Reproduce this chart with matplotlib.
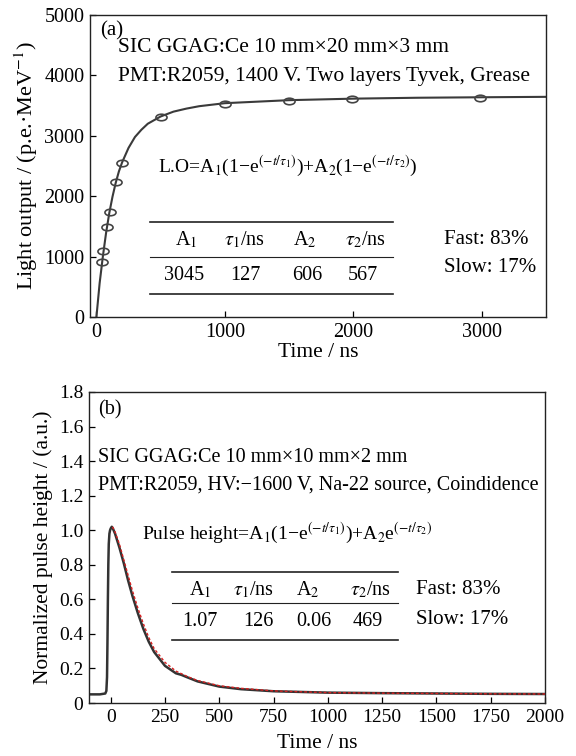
import numpy as np
import matplotlib
matplotlib.use("Agg")
import matplotlib.pyplot as plt
from matplotlib.lines import Line2D
from matplotlib.path import Path
from matplotlib.transforms import Affine2D

plt.rcParams['font.family'] = ['Liberation Serif', 'DejaVu Serif']
plt.rcParams['mathtext.fontset'] = 'stix'

# ---------------- data: panel (a) ----------------
lo_t = [47, 52, 86, 105, 156, 198, 503, 998, 1502, 1992, 2990]
lo_val = [916, 1088, 1495, 1743, 2240, 2545, 3306, 3531, 3581, 3609, 3625]
fit_a_t = [0, 25, 50, 75, 100, 125, 150, 175, 200, 250, 300, 350, 400, 500, 600,
           700, 800, 1000, 1500, 2000, 2500, 3000, 3500]
fit_a_val = [0, 560, 1000, 1390, 1720, 1990, 2220, 2410, 2560, 2800, 2980, 3100,
             3200, 3320, 3400, 3450, 3490, 3540, 3590, 3615, 3630, 3638, 3645]
a_xticks = [0, 1000, 2000, 3000]
a_yticks = [0, 1000, 2000, 3000, 4000, 5000]
a_table_head = [r"A$_1$", r"$\tau_1$/ns", r"A$_2$", r"$\tau_2$/ns"]
a_table_vals = ["3045", "127", "606", "567"]

# ---------------- data: panel (b) ----------------
pulse_t = [-100, -50, -25, -20, -17, -15, -13, -11, -9, -6, -3, 0, 5, 10, 20, 40,
           60, 80, 100, 125, 150, 175, 200, 250, 300, 325, 350, 400, 500, 600,
           750, 1000, 1250, 1500, 1750, 2000]
pulse_val = [0.05, 0.05, 0.055, 0.07, 0.15, 0.35, 0.6, 0.8, 0.92, 0.98, 1.0, 1.01,
             1.02, 1.01, 0.98, 0.90, 0.81, 0.71, 0.62, 0.52, 0.43, 0.355, 0.295,
             0.215, 0.172, 0.163, 0.15, 0.125, 0.095, 0.08, 0.068, 0.06, 0.057,
             0.055, 0.053, 0.052]
fit_b_t = [8, 20, 40, 60, 80, 100, 125, 150, 175, 200, 250, 300, 350, 400, 500,
           600, 750, 1000, 1250, 1500, 1750, 2000]
fit_b_val = [1.02, 0.99, 0.92, 0.83, 0.74, 0.65, 0.55, 0.46, 0.38, 0.315, 0.235,
             0.185, 0.155, 0.13, 0.10, 0.085, 0.07, 0.06, 0.057, 0.055, 0.053, 0.052]
b_xticks = [0, 250, 500, 750, 1000, 1250, 1500, 1750, 2000]
b_yticks = [0, 0.2, 0.4, 0.6, 0.8, 1.0, 1.2, 1.4, 1.6, 1.8]
b_yticklabels = ["0", "0.2", "0.4", "0.6", "0.8", "1.0", "1.2", "1.4", "1.6", "1.8"]
b_table_head = [r"A$_1$", r"$\tau_1$/ns", r"A$_2$", r"$\tau_2$/ns"]
b_table_vals = ["1.07", "126", "0.06", "469"]

W, H = 576, 756
fig = plt.figure(figsize=(W / 100, H / 100), dpi=100)

def fx(x):
    return x / W

def fy(y):
    return 1 - y / H

def ftext(x, y, s, size=14.5, ha='left', va='center'):
    fig.text(fx(x), fy(y), s, fontsize=size, ha=ha, va=va)

def fline(x1, x2, y, lw=1.2):
    fig.add_artist(Line2D([fx(x1), fx(x2)], [fy(y), fy(y)],
                          transform=fig.transFigure, color='#222222', lw=lw))

def style_axes(ax, size):
    for s in ax.spines.values():
        s.set_linewidth(1.0)
        s.set_color('#222222')
    ax.tick_params(direction='in', length=4, width=0.9, labelsize=size,
                   top=False, right=False, pad=4)

# ---------------- panel (a) ----------------
ax1 = fig.add_axes([fx(90), fy(317), fx(546) - fx(90), fy(15) - fy(317)])
ax1.plot(fit_a_t, fit_a_val, color='#3a3a3a', lw=1.5, zorder=2)
ell = Path.unit_circle().transformed(Affine2D().scale(1.7, 1.0))
ax1.plot(lo_t, lo_val, linestyle='none', marker=ell, markersize=8,
         mfc='none', mec='#444444', mew=1.2, zorder=3)
ax1.set_xlim(-50, 3500)
ax1.set_ylim(0, 5000)
ax1.set_xticks(a_xticks)
ax1.set_yticks(a_yticks)
ax1.set_xlabel("Time / ns", fontsize=15.5, labelpad=1)
ax1.set_ylabel(r"Light output / (p.e.·MeV$^{-1}$)", fontsize=16, labelpad=3)
style_axes(ax1, 14.5)

ftext(100, 31, "(a)", size=15)
ftext(118, 48, "SIC GGAG:Ce 10 mm×20 mm×3 mm", size=15.5)
ftext(118, 76, "PMT:R2059, 1400 V. Two layers Tyvek, Grease", size=15.5)
ftext(158, 166, r"L.O=A$_1$(1−e$^{(-t/\tau_1)}$)+A$_2$(1−e$^{(-t/\tau_2)}$)", size=14)
fline(150, 393, 221.7)
fline(150, 393, 257.3, lw=0.8)
fline(150, 393, 294)
for cx, s in zip([186, 244, 305, 365], a_table_head):
    ftext(cx, 240, s, ha='center', size=14.5)
for cx, s in zip([184, 245, 307, 363], a_table_vals):
    ftext(cx, 276, s, ha='center', size=14.5)
ftext(444, 239, "Fast: 83%", size=15)
ftext(444, 267, "Slow: 17%", size=15)

# ---------------- panel (b) ----------------
ax2 = fig.add_axes([fx(89), fy(703), fx(545) - fx(89), fy(392) - fy(703)])
ax2.plot(pulse_t, pulse_val, color='#333333', lw=1.8, zorder=2)
ax2.plot(fit_b_t, fit_b_val, color='#d62020', lw=1.0, ls=(0, (2, 1.5)), zorder=3)
ax2.set_xlim(-100, 2000)
ax2.set_ylim(0, 1.8)
ax2.set_xticks(b_xticks)
ax2.set_yticks(b_yticks)
ax2.set_yticklabels(b_yticklabels)
ax2.set_xlabel("Time / ns", fontsize=15.5, labelpad=6)
ax2.set_ylabel("Normalized pulse height / (a.u.)", fontsize=15.5, labelpad=4)
style_axes(ax2, 14)

ftext(98, 410, "(b)", size=14.5)
ftext(98, 458, "SIC GGAG:Ce 10 mm×10 mm×2 mm", size=14.5)
ftext(98, 485, "PMT:R2059, HV:−1600 V, Na-22 source, Coindidence", size=14.5)
ftext(142, 533, r"Pulse height=A$_1$(1−e$^{(-t/\tau_1)}$)+A$_2$e$^{(-t/\tau_2)}$", size=14)
fline(172, 398, 571.7)
fline(172, 398, 603.3, lw=0.8)
fline(172, 398, 640)
for cx, s in zip([200, 253, 308, 370], b_table_head):
    ftext(cx, 590, s, ha='center', size=14.5)
for cx, s in zip([200, 258, 314, 368], b_table_vals):
    ftext(cx, 621, s, ha='center', size=14.5)
ftext(416, 590, "Fast: 83%", size=15)
ftext(416, 620, "Slow: 17%", size=15)

fig.savefig("out.png", dpi=100)
